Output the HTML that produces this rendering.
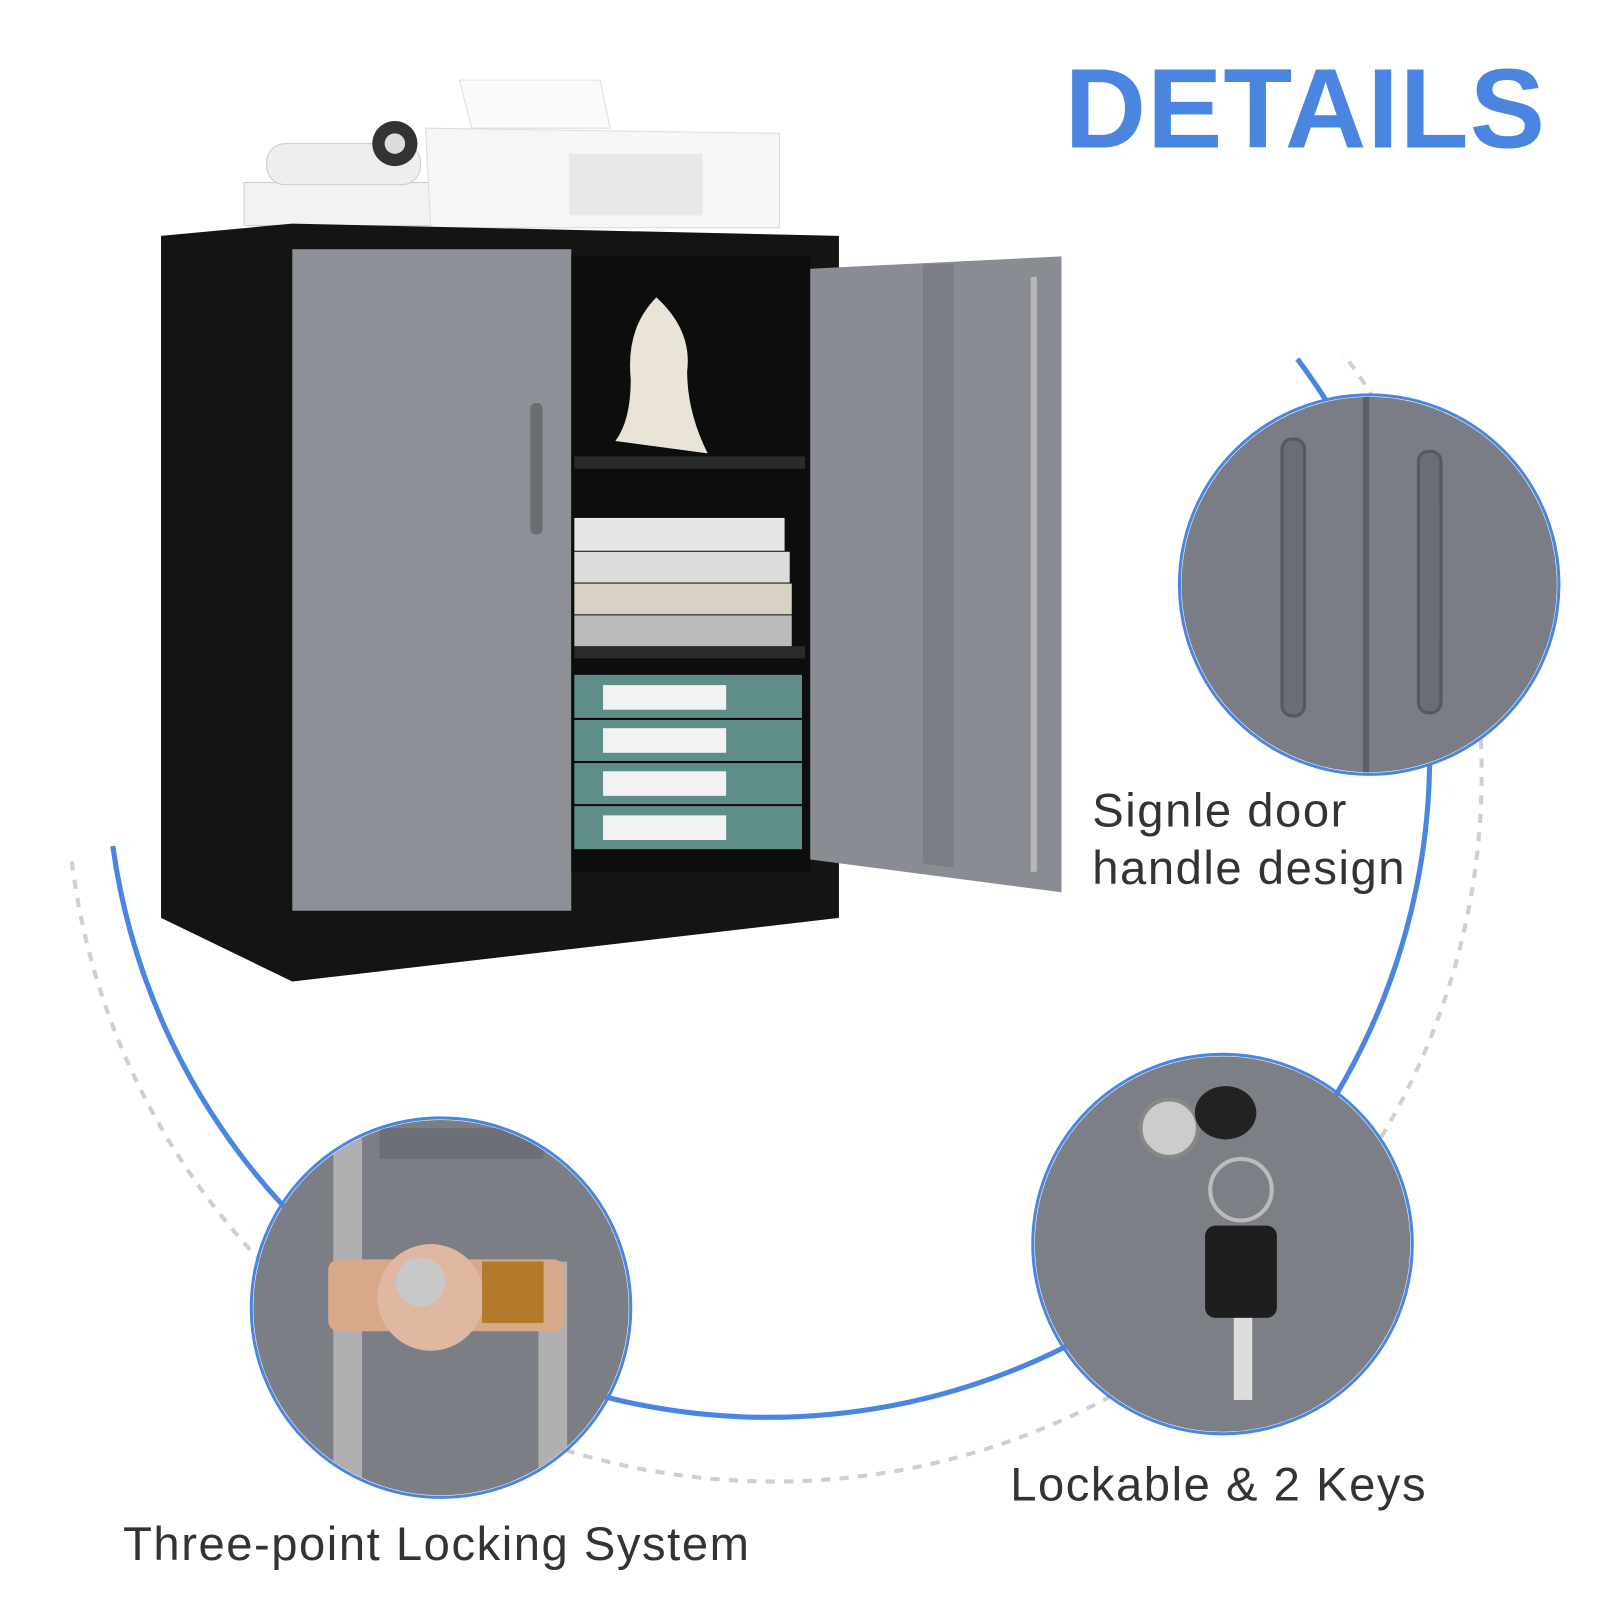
<!DOCTYPE html>
<html><head><meta charset="utf-8"><style>
html,body{margin:0;padding:0;background:#fff;}
body{width:1600px;height:1600px;position:relative;overflow:hidden;font-family:"Liberation Sans","DejaVu Sans",sans-serif;}
#w{position:absolute;left:0;top:0;width:1560px;height:1560px;transform:scale(1.0256);transform-origin:0 0;}
.t{position:absolute;color:#333;font-size:46px;letter-spacing:1.5px;line-height:1.2;}
</style></head><body><div id="w">
<svg width="1560" height="1560" style="position:absolute;left:0;top:0">
<defs>
<clipPath id="c1"><circle cx="1335" cy="570" r="183"/></clipPath>
<clipPath id="c2"><circle cx="1192" cy="1213" r="183"/></clipPath>
<clipPath id="c3"><circle cx="430" cy="1275" r="183"/></clipPath>
</defs>
<path d="M70 840 A690 690 0 1 0 1310 345" fill="none" stroke="#cfcfcf" stroke-width="4" stroke-dasharray="9 9"/>
<path d="M110 825 A645 645 0 1 0 1265 350" fill="none" stroke="#4a86e0" stroke-width="5"/>

<rect x="238" y="178" width="208" height="42" fill="#f2f2f2" stroke="#ccc"/>
<rect x="260" y="140" width="150" height="40" rx="18" fill="#eee" stroke="#ccc"/>
<circle cx="385" cy="140" r="22" fill="#333"/>
<circle cx="385" cy="140" r="10" fill="#ddd"/>
<polygon points="415,125 760,130 760,222 420,222" fill="#f6f6f6" stroke="#ddd"/>
<polygon points="448,78 585,78 595,125 460,125" fill="#fafafa" stroke="#ddd"/>
<rect x="555" y="150" width="130" height="60" fill="#e8e8e8"/>
<polygon points="157,230 285,218 818,230 818,895 285,957 157,895" fill="#141414"/>
<rect x="285" y="243" width="272" height="645" fill="#8e9097"/>
<rect x="517" y="393" width="12" height="128" rx="5" fill="#6b6d73"/>
<rect x="557" y="250" width="233" height="600" fill="#0d0d0d"/>
<rect x="560" y="445" width="225" height="12" fill="#2a2a2a"/>
<rect x="560" y="630" width="225" height="12" fill="#2a2a2a"/>
<path d="M640 290 q-30 30 -25 80 q0 40 -15 60 l90 12 q-20 -40 -20 -80 q5 -40 -30 -72z" fill="#e9e3d8"/>
<rect x="560" y="505" width="205" height="32" fill="#e6e6e6"/>
<rect x="560" y="538" width="210" height="30" fill="#ddd"/>
<rect x="560" y="569" width="212" height="30" fill="#d8d2c4"/>
<rect x="560" y="600" width="212" height="30" fill="#bbb"/>
<rect x="560" y="658" width="222" height="42" fill="#5f8d88"/>
<rect x="560" y="702" width="222" height="40" fill="#5f8d88"/>
<rect x="560" y="744" width="222" height="40" fill="#5f8d88"/>
<rect x="560" y="786" width="222" height="42" fill="#5f8d88"/>
<g fill="#f2f2f2"><rect x="588" y="668" width="120" height="24"/><rect x="588" y="710" width="120" height="24"/><rect x="588" y="752" width="120" height="24"/><rect x="588" y="795" width="120" height="24"/></g>
<polygon points="790,262 1035,250 1035,870 790,838" fill="#8a8c93"/>
<polygon points="900,258 930,257 930,846 900,842" fill="#7b7d84"/>
<rect x="1005" y="270" width="6" height="580" fill="#b8b8b8"/>

<circle cx="1335" cy="570" r="185" fill="#fff"/>
<g clip-path="url(#c1)">
<rect x="1150" y="380" width="370" height="380" fill="#7a7d85"/>
<rect x="1329" y="380" width="6" height="380" fill="#5c5f66"/>
<rect x="1250" y="428" width="22" height="270" rx="10" fill="#6a6d74" stroke="#55585e" stroke-width="3"/>
<rect x="1383" y="440" width="22" height="255" rx="10" fill="#6a6d74" stroke="#55585e" stroke-width="3"/>
</g>
<circle cx="1335" cy="570" r="185" fill="none" stroke="#4a86e0" stroke-width="3"/>

<g clip-path="url(#c2)">
<rect x="1000" y="1020" width="380" height="380" fill="#7c7f86"/>
<circle cx="1140" cy="1100" r="28" fill="#ccc" stroke="#888" stroke-width="4"/>
<ellipse cx="1195" cy="1085" rx="30" ry="26" fill="#222"/>
<circle cx="1210" cy="1160" r="30" fill="none" stroke="#bbb" stroke-width="4"/>
<rect x="1175" y="1195" width="70" height="90" rx="10" fill="#1e1e1e"/>
<rect x="1203" y="1285" width="18" height="80" fill="#ddd"/>
</g>
<circle cx="1192" cy="1213" r="185" fill="none" stroke="#4a86e0" stroke-width="3"/>

<g clip-path="url(#c3)">
<rect x="240" y="1085" width="380" height="380" fill="#7b7e85"/>
<rect x="370" y="1100" width="160" height="30" fill="#6c6f76"/>
<rect x="325" y="1110" width="28" height="360" fill="#b0b0b0"/>
<rect x="525" y="1230" width="28" height="240" fill="#b0b0b0"/>
<rect x="320" y="1228" width="230" height="70" rx="10" fill="#d9a78a"/>
<circle cx="420" cy="1265" r="52" fill="#e0b8a2"/>
<circle cx="410" cy="1250" r="24" fill="#c8c8c8"/>
<rect x="470" y="1230" width="60" height="60" fill="#b27a2a"/>
</g>
<circle cx="430" cy="1275" r="185" fill="none" stroke="#4a86e0" stroke-width="3"/>
</svg>
<div style="position:absolute;left:1038px;top:46px;font-size:110px;font-weight:bold;color:#4a86e0;letter-spacing:1px;line-height:1.1">DETAILS</div>
<div class="t" style="left:1065px;top:762px;line-height:56px">Signle door<br>handle design</div>
<div class="t" style="left:985px;top:1420px">Lockable &amp; 2 Keys</div>
<div class="t" style="left:120px;top:1478px">Three-point Locking System</div>
</div></body></html>
